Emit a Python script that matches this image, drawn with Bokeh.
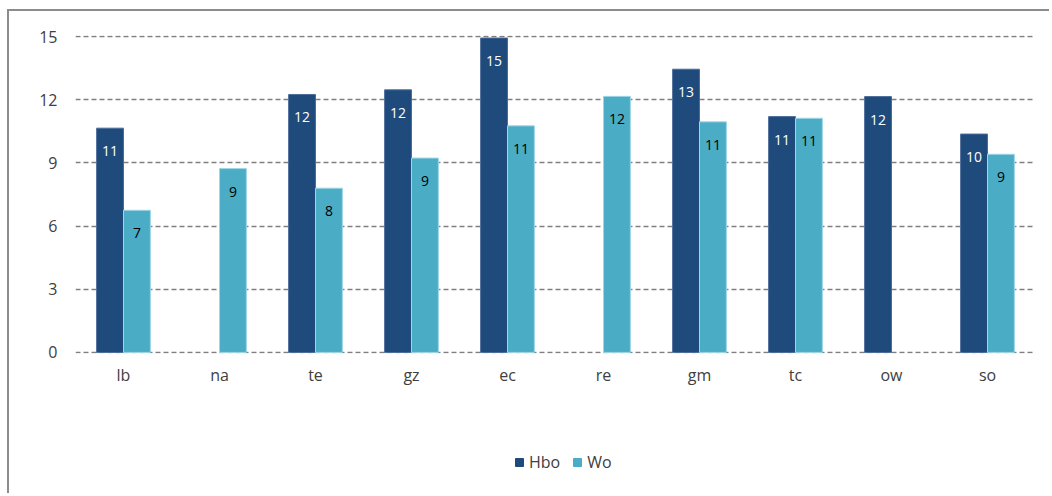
from bokeh.plotting import figure
from bokeh.layouts import column
from bokeh.models import ColumnDataSource, FactorRange, Range1d, Legend, LegendItem, FixedTicker
from bokeh.transform import dodge
from bokeh.core.properties import value
from bokeh.embed import file_html
from bokeh.resources import INLINE

categories = ["lb", "na", "te", "gz", "ec", "re", "gm", "tc", "ow", "so"]
hbo = [10.65, None, 12.25, 12.47, 14.93, None, 13.45, 11.2, 12.15, 10.37]
wo = [6.75, 8.73, 7.8, 9.23, 10.76, 12.16, 10.95, 11.12, None, 9.41]
y_ticks = [0, 3, 6, 9, 12, 15]
series_names = ["Hbo", "Wo"]

HBO_COLOR = "#1F4A7C"
WO_COLOR = "#4BACC6"
FONT = "Open Sans"

def lab(v):
    return "" if v is None else str(int(round(v)))

src = ColumnDataSource(dict(
    cat=categories,
    hbo=[float("nan") if v is None else v for v in hbo],
    wo=[float("nan") if v is None else v for v in wo],
    hbo_lab=[lab(v) for v in hbo],
    wo_lab=[lab(v) for v in wo],
))

p = figure(
    x_range=FactorRange(*categories, range_padding=0),
    y_range=Range1d(-0.05, 15.05),
    width=1040, height=400,
    output_backend="svg", toolbar_location=None,
    min_border_left=66, min_border_right=14,
    min_border_top=24, min_border_bottom=58,
)
p.outline_line_color = None

p.vbar(x=dodge("cat", -0.14, range=p.x_range), top="hbo", width=0.28, source=src,
       fill_color=HBO_COLOR, line_color="#4d6e9a", line_width=1)
p.vbar(x=dodge("cat", 0.14, range=p.x_range), top="wo", width=0.28, source=src,
       fill_color=WO_COLOR, line_color="#9fd6e4", line_width=1)

p.text(x=dodge("cat", -0.14, range=p.x_range), y="hbo", text="hbo_lab", source=src,
       text_color="white", text_font=value(FONT), text_font_size="14px",
       text_align="center", text_baseline="middle", y_offset=23)
p.text(x=dodge("cat", 0.14, range=p.x_range), y="wo", text="wo_lab", source=src,
       text_color="black", text_font=value(FONT), text_font_size="14px",
       text_align="center", text_baseline="middle", y_offset=23)

p.xgrid.grid_line_color = None
p.ygrid.ticker = FixedTicker(ticks=y_ticks)
p.ygrid.grid_line_color = "#7f7f7f"
p.ygrid.grid_line_width = 1.5
p.ygrid.grid_line_dash = "5 3"

p.yaxis.ticker = FixedTicker(ticks=y_ticks)
for ax in (p.xaxis[0], p.yaxis[0]):
    ax.axis_line_color = None
    ax.major_tick_line_color = None
    ax.minor_tick_line_color = None
    ax.major_label_text_font = FONT
    ax.major_label_text_font_size = "16px"
    ax.major_label_text_color = "#404040"
p.yaxis.major_label_standoff = 12
p.xaxis.major_label_standoff = 4

# legend strip below the chart (its bars lie outside its visible y range)
lg = figure(width=1040, height=82, output_backend="svg", toolbar_location=None,
            x_axis_type=None, y_axis_type=None, min_border=0,
            x_range=FactorRange(*categories), y_range=Range1d(1000, 1001))
lg.outline_line_color = None
lg.xgrid.grid_line_color = None
lg.ygrid.grid_line_color = None
d1 = lg.vbar(x="cat", top="hbo", width=0.28, source=src, fill_color=HBO_COLOR, line_color=HBO_COLOR)
d2 = lg.vbar(x="cat", top="wo", width=0.28, source=src, fill_color=WO_COLOR, line_color=WO_COLOR)
legend = Legend(items=[LegendItem(label=series_names[0], renderers=[d1]),
                       LegendItem(label=series_names[1], renderers=[d2])],
                orientation="horizontal", location=(439, 20),
                label_text_font=FONT, label_text_font_size="16px", label_text_color="#404040",
                glyph_width=10, glyph_height=10, label_standoff=5, spacing=12,
                border_line_color=None, background_fill_alpha=0, padding=0, margin=0)
lg.add_layout(legend, "center")

layout = column(p, lg, spacing=0)
layout.styles = {"margin-left": "7px", "margin-top": "9px",
                 "border-left": "2px solid #8c8c8c", "border-top": "2px solid #8c8c8c"}

open("out.html", "w").write(file_html(layout, INLINE))
